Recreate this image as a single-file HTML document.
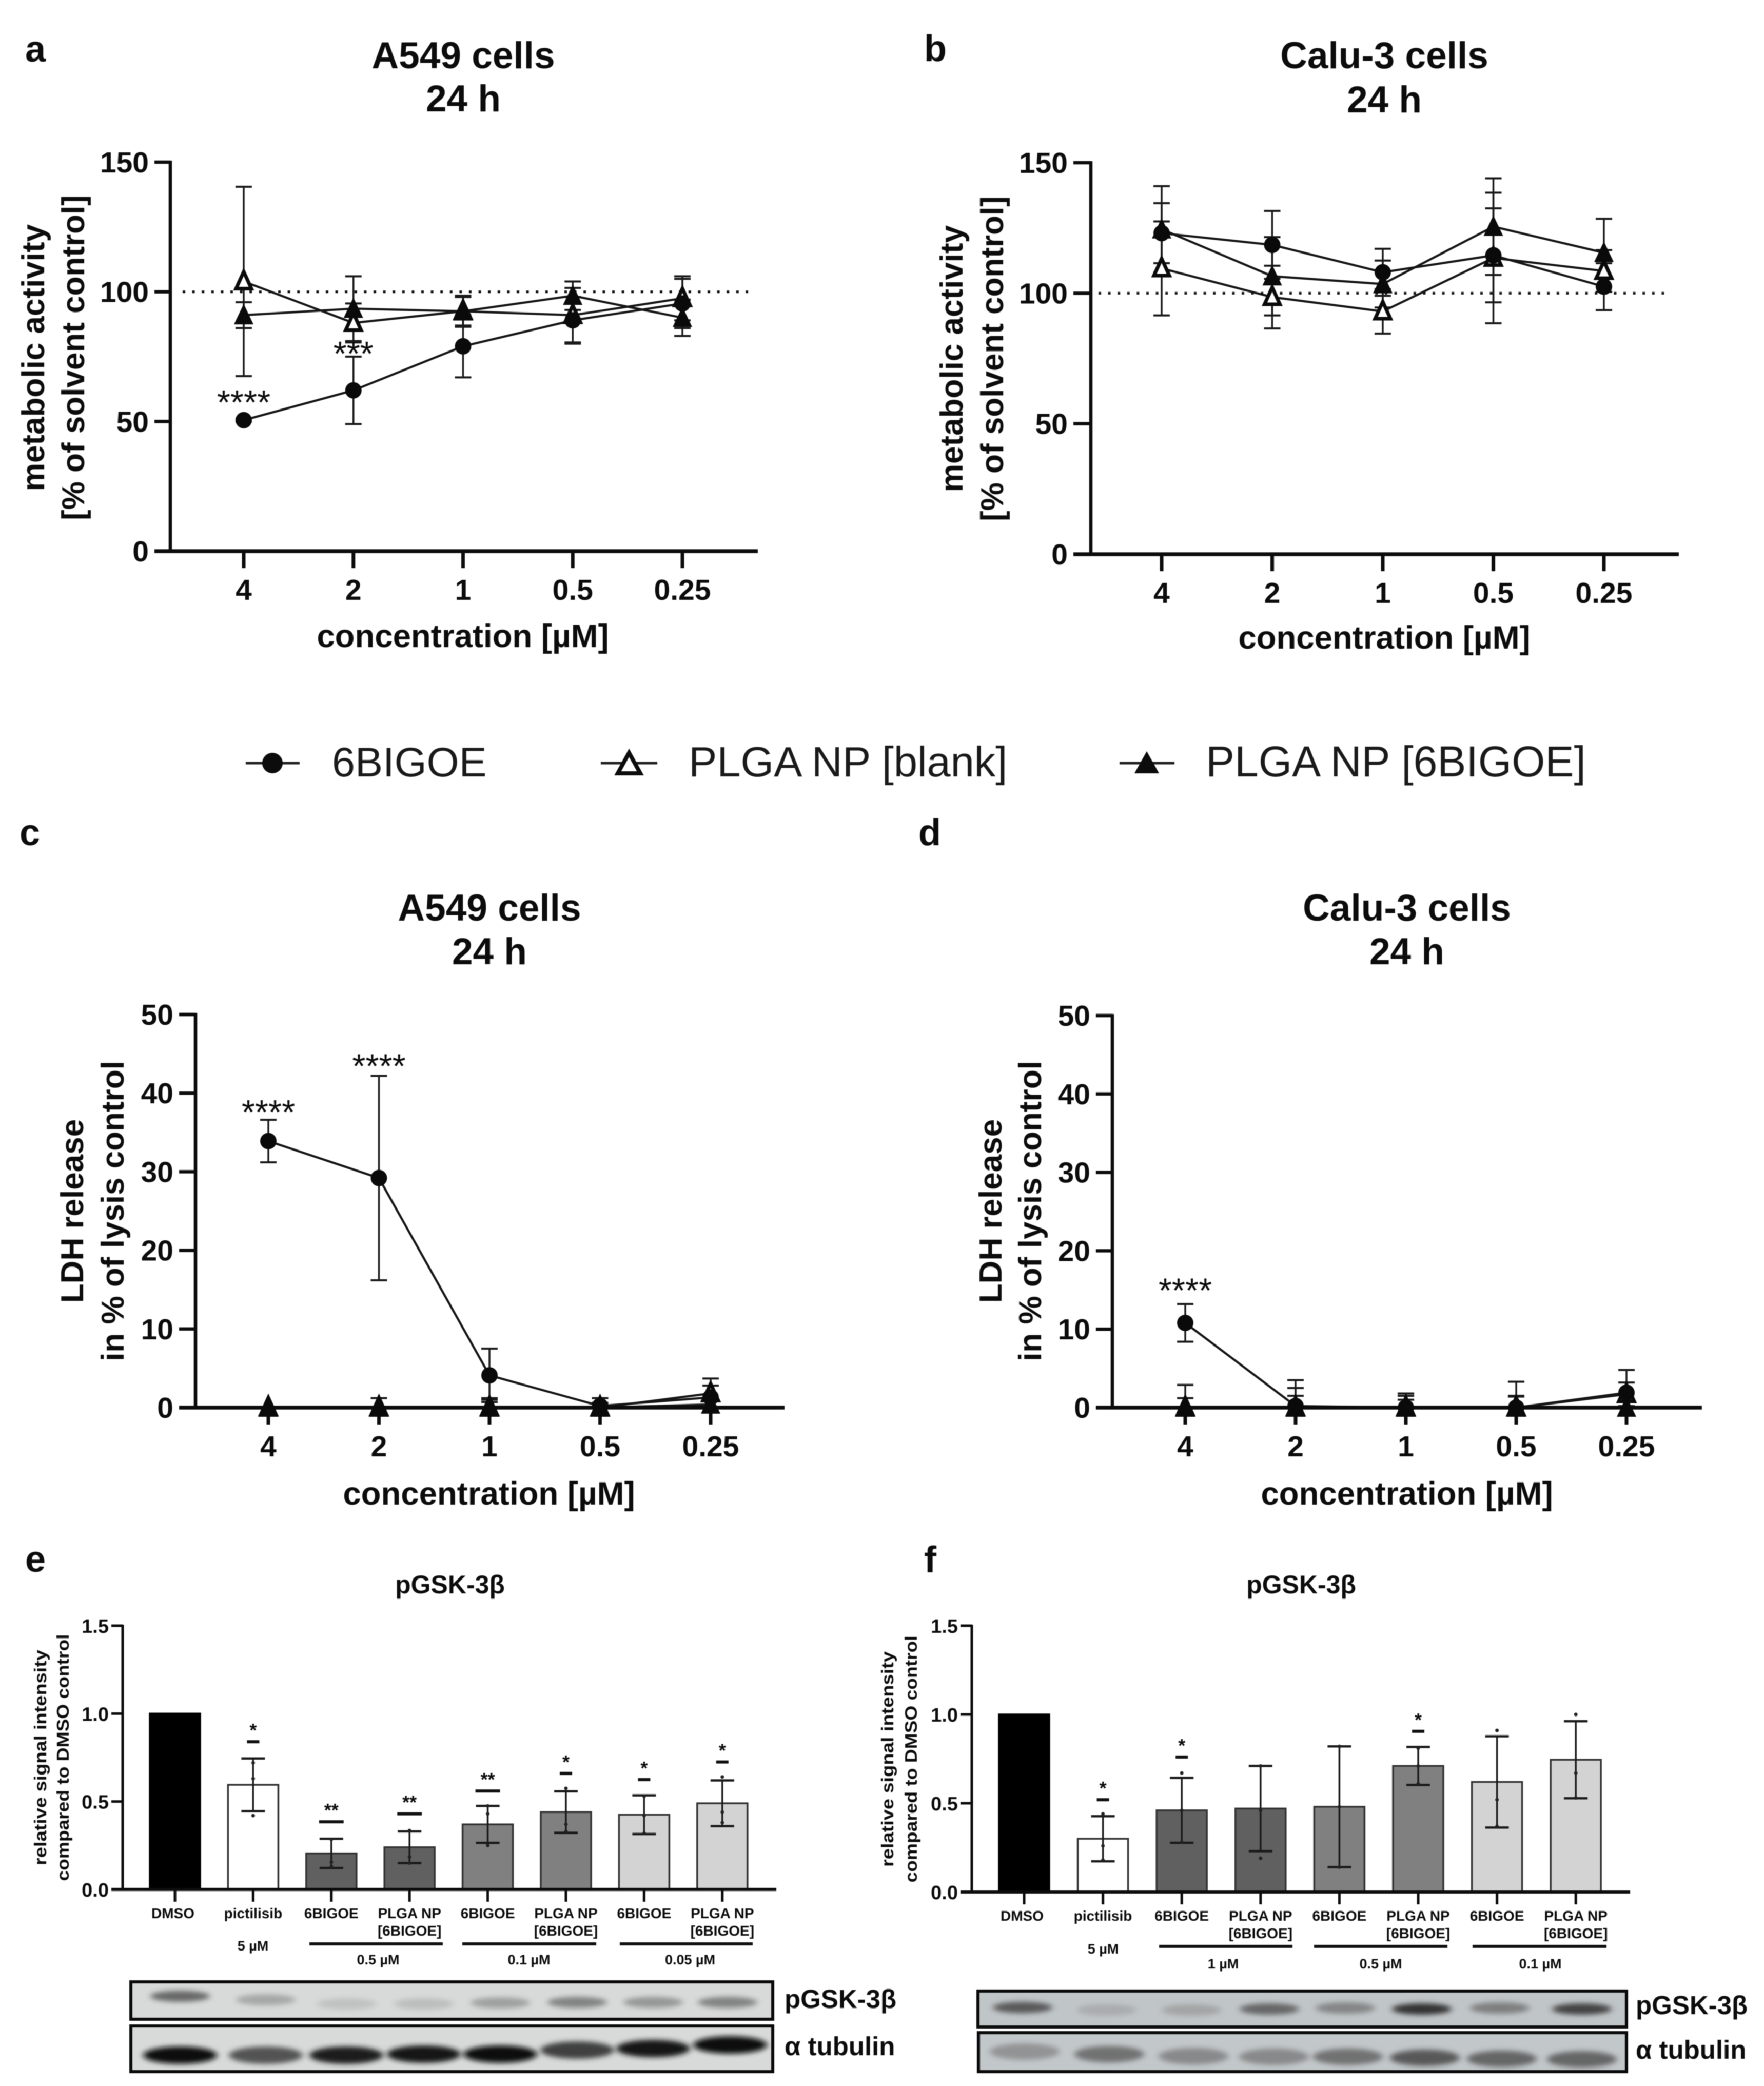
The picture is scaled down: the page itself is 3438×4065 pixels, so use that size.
<!DOCTYPE html>
<html lang="en">
<head>
<meta charset="utf-8">
<title>6BIGOE metabolic activity, LDH release and pGSK-3β figure</title>
<style>
html,body{margin:0;padding:0;background:#fff;}
body{width:3438px;height:4065px;overflow:hidden;}
svg{display:block;filter:blur(0.9px);}
text{font-family:"Liberation Sans",sans-serif;fill:#0c0c0c;}
.b{font-weight:700;}
.letter{font-size:72px;font-weight:700;}
.title{font-size:73px;font-weight:700;text-anchor:middle;}
.axt{font-size:62px;font-weight:700;text-anchor:middle;}
.xt{font-size:63.5px;font-weight:700;text-anchor:middle;}
.leg{font-size:81px;fill:#1a1a1a;}
.wt{font-size:50px;font-weight:700;text-anchor:middle;}
.bl{font-size:51px;font-weight:700;}
.sub{font-size:27px;font-weight:700;text-anchor:middle;}
.yb{font-size:33px;font-weight:700;text-anchor:middle;}
</style>
</head>
<body>
<svg id="fig" xmlns="http://www.w3.org/2000/svg" width="3438" height="4065" viewBox="0 0 3438 4065">
  <defs>
    <filter id="bandBlur" x="-40%" y="-120%" width="180%" height="340%"><feGaussianBlur stdDeviation="6 5"/></filter>
  </defs>
  <rect x="0" y="0" width="3438" height="4065" fill="#fff"/>

  <text class="letter" x="49" y="120">a</text>
  <text class="letter" x="1801" y="119">b</text>
  <text class="letter" x="38" y="1647">c</text>
  <text class="letter" x="1790" y="1647">d</text>
  <text class="letter" x="49" y="3063">e</text>
  <text class="letter" x="1801" y="3064">f</text>

  <text class="title" x="903" y="133">A549 cells</text>
  <text class="title" x="903" y="217">24 h</text>
  <text class="title" x="2698" y="133">Calu-3 cells</text>
  <text class="title" x="2698" y="219">24 h</text>
  <text class="title" x="954" y="1794">A549 cells</text>
  <text class="title" x="954" y="1879">24 h</text>
  <text class="title" x="2742" y="1794">Calu-3 cells</text>
  <text class="title" x="2742" y="1879">24 h</text>
  <text class="wt" x="877" y="3105">pGSK-3β</text>
  <text class="wt" x="2536" y="3105">pGSK-3β</text>

  <text class="axt" transform="translate(86 697) rotate(-90)">metabolic activity</text>
  <text class="axt" transform="translate(164 697) rotate(-90)">[% of solvent control]</text>
  <text class="axt" transform="translate(1876 699) rotate(-90)">metabolic activity</text>
  <text class="axt" transform="translate(1955 699) rotate(-90)">[% of solvent control]</text>
  <text class="axt" transform="translate(162 2360) rotate(-90)">LDH release</text>
  <text class="axt" transform="translate(241 2360) rotate(-90)">in % of lysis control</text>
  <text class="axt" transform="translate(1952 2360) rotate(-90)">LDH release</text>
  <text class="axt" transform="translate(2029 2360) rotate(-90)">in % of lysis control</text>
  <text class="yb" textLength="420" lengthAdjust="spacingAndGlyphs" transform="translate(90 3425) rotate(-90)">relative signal intensity</text>
  <text class="yb" textLength="481" lengthAdjust="spacingAndGlyphs" transform="translate(134 3425) rotate(-90)">compared to DMSO control</text>
  <text class="yb" textLength="420" lengthAdjust="spacingAndGlyphs" transform="translate(1741 3428) rotate(-90)">relative signal intensity</text>
  <text class="yb" textLength="481" lengthAdjust="spacingAndGlyphs" transform="translate(1787 3428) rotate(-90)">compared to DMSO control</text>

  <text class="xt" x="902" y="1261">concentration [µM]</text>
  <text class="xt" x="2698" y="1264">concentration [µM]</text>
  <text class="xt" x="953" y="2932">concentration [µM]</text>
  <text class="xt" x="2742" y="2932">concentration [µM]</text>

  <g>
    <g>
      <line x1="479" y1="1487" x2="584" y2="1487" stroke="#222" stroke-width="5"/>
      <circle cx="531" cy="1487" r="20" fill="#0c0c0c"/>
      <text class="leg" x="647" y="1513">6BIGOE</text>
    </g>
    <g>
      <line x1="1171" y1="1487" x2="1281" y2="1487" stroke="#222" stroke-width="5"/>
      <polygon points="1226,1467 1248,1507 1204,1507" fill="#fff" stroke="#0c0c0c" stroke-width="8"/>
      <text class="leg" x="1342" y="1513" style="font-size:83px">PLGA NP [blank]</text>
    </g>
    <g>
      <line x1="2182" y1="1487" x2="2289" y2="1487" stroke="#222" stroke-width="5"/>
      <polygon points="2235,1464 2259,1507 2211,1507" fill="#0c0c0c"/>
      <text class="leg" x="2350" y="1513" style="font-size:84px">PLGA NP [6BIGOE]</text>
    </g>
  </g>

  <text class="sub" x="493" y="3801">5 µM</text>
  <text class="sub" x="737" y="3828">0.5 µM</text>
  <text class="sub" x="1031" y="3828">0.1 µM</text>
  <text class="sub" x="1345" y="3828">0.05 µM</text>
  <text class="sub" x="2150" y="3807">5 µM</text>
  <text class="sub" x="2384" y="3836">1 µM</text>
  <text class="sub" x="2691" y="3836">0.5 µM</text>
  <text class="sub" x="3002" y="3836">0.1 µM</text>

  <rect x="603" y="3785" width="260" height="6" fill="#111"/>
  <rect x="901" y="3785" width="261" height="6" fill="#111"/>
  <rect x="1208" y="3785" width="259" height="6" fill="#111"/>
  <rect x="2259" y="3790" width="260" height="6" fill="#111"/>
  <rect x="2561" y="3790" width="260" height="6" fill="#111"/>
  <rect x="2870" y="3790" width="261" height="6" fill="#111"/>

  <text class="bl" x="1529" y="3913">pGSK-3β</text>
  <text class="bl" x="1529" y="4005">α tubulin</text>
  <text class="bl" x="3188" y="3925">pGSK-3β</text>
  <text class="bl" x="3188" y="4012">α tubulin</text>

  <g id="charts"></g>
</svg>

<script>
// ---------- shared categories and ticks ----------
const concentrations = ['4', '2', '1', '0.5', '0.25'];
const metabolicTicks = [0, 50, 100, 150];
const lysisTicks = [0, 10, 20, 30, 40, 50];
const bandTicks = ['0.0', '0.5', '1.0', '1.5'];

// ---------- panel a ----------
const aFreeMean = [50.5, 62, 79, 89, 95.5];
const aFreeErr = [0.5, 13, 12, 9, 9.5];
const aBlankMean = [104, 88, 92.5, 91, 97.5];
const aBlankErr = [36.5, 7.5, 5.5, 10.5, 8.5];
const aLoadedMean = [91, 93.5, 92.5, 98.5, 90];
const aLoadedErr = [5, 12.5, 6, 5.5, 7];
const aStars = ['****', '***', '', '', ''];
const aStarHeights = [60.6, 79.4, 0, 0, 0];

// ---------- panel b ----------
const bFreeMean = [123, 118.5, 108, 114.5, 102.5];
const bFreeErr = [11.5, 13, 9, 18, 9];
const bBlankMean = [109.5, 98.5, 93, 113.5, 108.5];
const bBlankErr = [18, 12, 8.5, 25, 8];
const bLoadedMean = [124.5, 106.5, 103.5, 125.5, 115.5];
const bLoadedErr = [16.5, 15, 9, 18.5, 13];

// ---------- panel c ----------
const cFreeMean = [33.9, 29.2, 4.1, 0.2, 1.3];
const cFreeErr = [2.7, 13, 3.4, 1, 2.4];
const cBlankMean = [0, 0, 0, 0, 1.8];
const cBlankErr = [0, 1.2, 1, 0.6, 1];
const cLoadedMean = [0, 0, 0, 0, 0.4];
const cLoadedErr = [0, 0, 1.2, 0.5, 0.5];
const cStars = ['****', '****', '', '', ''];
const cStarHeights = [38.65, 44.5, 0, 0, 0];

// ---------- panel d ----------
const dFreeMean = [10.8, 0.2, 0, 0, 1.9];
const dFreeErr = [2.4, 3.3, 1.8, 3.3, 2.9];
const dBlankMean = [0, 0, 0, 0, 1.7];
const dBlankErr = [2.9, 2.5, 1.5, 1.5, 1.5];
const dLoadedMean = [0, 0, 0, 0, 0];
const dLoadedErr = [1.2, 1.5, 1, 1.4, 1];
const dStars = ['****', '', '', '', ''];
const dStarHeights = [16, 0, 0, 0, 0];

// ---------- panels e / f ----------
const eCategories = ['DMSO', 'pictilisib', '6BIGOE', 'PLGA NP|[6BIGOE]', '6BIGOE', 'PLGA NP|[6BIGOE]', '6BIGOE', 'PLGA NP|[6BIGOE]'];
const eMeans = [1.0, 0.595, 0.205, 0.24, 0.37, 0.44, 0.425, 0.49];
const eErrs = [0, 0.15, 0.083, 0.09, 0.105, 0.118, 0.11, 0.13];
const eDash = [0, 0.84, 0.385, 0.43, 0.56, 0.66, 0.625, 0.725];
const eStars = ['', '*', '**', '**', '**', '*', '*', '*'];
const eDots = [[], [0.72, 0.63, 0.42], [0.285, 0.155, 0.13], [0.335, 0.185, 0.15], [0.475, 0.43, 0.25], [0.575, 0.37, 0.33], [0.53, 0.42, 0.32], [0.64, 0.44, 0.38]];

const fCategories = ['DMSO', 'pictilisib', '6BIGOE', 'PLGA NP|[6BIGOE]', '6BIGOE', 'PLGA NP|[6BIGOE]', '6BIGOE', 'PLGA NP|[6BIGOE]'];
const fMeans = [1.0, 0.30, 0.46, 0.47, 0.48, 0.71, 0.62, 0.745];
const fErrs = [0, 0.127, 0.183, 0.24, 0.34, 0.107, 0.257, 0.217];
const fDash = [0, 0.52, 0.76, 0, 0, 0.905, 0, 0];
const fStars = ['', '*', '*', '', '', '*', '', ''];
const fDots = [[], [0.44, 0.26, 0.18], [0.67, 0.46, 0.28], [0.71, 0.46, 0.19], [0.82, 0.48, 0.14], [0.81, 0.71, 0.61], [0.91, 0.52, 0.37], [1.0, 0.67, 0.53]];

const barFills = ['#000000', '#ffffff', '#606060', '#606060', '#808080', '#808080', '#d3d3d3', '#d3d3d3'];

// ---------- western blot band intensities ----------
const ePgskBands = [0.55, 0.28, 0.12, 0.15, 0.32, 0.45, 0.36, 0.45];
const eTubulinBands = [1, 0.62, 0.92, 0.95, 1.05, 0.72, 0.95, 1.05];
const fPgskBands = [0.6, 0.2, 0.25, 0.55, 0.42, 0.8, 0.45, 0.7];
const fTubulinBands = [0.35, 0.5, 0.4, 0.4, 0.5, 0.6, 0.55, 0.55];

const SVGNS = 'http://www.w3.org/2000/svg';
const root = document.getElementById('charts');
const INK = '#0c0c0c';

function mk(parent, tag, attrs, name) {
  const el = document.createElementNS(SVGNS, tag);
  for (const k in attrs) el.setAttribute(k, attrs[k]);
  
  
  parent.appendChild(el);
  return el;
}
function label(parent, x, y, str, size, anchor, weight, name) {
  const el = mk(parent, 'text', {x: x, y: y, 'font-size': size, 'text-anchor': anchor, 'font-weight': weight}, name);
  el.textContent = str;
  return el;
}
function hline(parent, x1, x2, y, w, color, name) {
  return mk(parent, 'line', {x1: x1, x2: x2, y1: y, y2: y, stroke: color, 'stroke-width': w}, name);
}
function vline(parent, x, y1, y2, w, color, name) {
  return mk(parent, 'line', {x1: x, x2: x, y1: y1, y2: y2, stroke: color, 'stroke-width': w}, name);
}

function drawLinePanel(id, layout, ticks, yMax, series, stars, starHeights) {
  const g = mk(root, 'g', {}, 'chart-' + id);
  const yScale = v => layout.y0 - (v / yMax) * (layout.y0 - layout.yTop);
  const xScale = i => layout.x1 + i * (layout.x5 - layout.x1) / (concentrations.length - 1);

  if (layout.ref !== undefined) {
    mk(g, 'line', {x1: layout.refStart, x2: layout.refEnd, y1: yScale(layout.ref), y2: yScale(layout.ref),
      stroke: '#111', 'stroke-width': 5, 'stroke-dasharray': '5 13.6'}, 'reference-line-100');
  }

  series.forEach(s => {
    concentrations.forEach((c, i) => {
      const x = xScale(i);
      const hi = yScale(s.mean[i] + s.err[i]);
      const lo = yScale(Math.max(s.mean[i] - s.err[i], 0));
      vline(g, x, hi, lo, 3.5, '#1a1a1a', 'error-bar-' + s.key + '-' + c);
      hline(g, x - 16, x + 16, hi, 4, '#1a1a1a', 'error-cap-high-' + s.key + '-' + c);
      if (s.mean[i] - s.err[i] > 0) {
        hline(g, x - 16, x + 16, lo, 4, '#1a1a1a', 'error-cap-low-' + s.key + '-' + c);
      }
    });
  });

  series.forEach(s => {
    const pts = concentrations.map((c, i) => xScale(i) + ',' + yScale(s.mean[i])).join(' ');
    mk(g, 'polyline', {points: pts, fill: 'none', stroke: '#161616', 'stroke-width': 4.3}, 'series-line-' + s.key);
  });

  hline(g, layout.tickLeft, layout.xEnd, layout.y0, 7.5, INK, 'x-axis-line');
  vline(g, layout.x0, layout.yTop - 3, layout.y0, 6.5, INK, 'y-axis-line');
  ticks.forEach(t => {
    const y = yScale(t);
    hline(g, layout.tickLeft, layout.x0, y, 6.5, INK, 'y-tick-' + t);
    label(g, layout.tickLeft - 11, y + 20, String(t), 57, 'end', 700, 'y-tick-label-' + t);
  });
  concentrations.forEach((c, i) => {
    const x = xScale(i);
    vline(g, x, layout.y0, layout.y0 + 33, 7, INK, 'x-tick-' + c);
    label(g, x, layout.y0 + 95, c, 57, 'middle', 700, 'x-tick-label-' + c);
  });

  series.forEach(s => {
    concentrations.forEach((c, i) => {
      const x = xScale(i);
      const y = yScale(s.mean[i]);
      if (s.marker === 'circle') {
        mk(g, 'circle', {cx: x, cy: y, r: 16, fill: '#0a0a0a'}, 'point-' + s.key + '-' + c);
      } else if (s.marker === 'open') {
        mk(g, 'polygon', {points: x + ',' + (y - 19) + ' ' + (x + 15) + ',' + (y + 14) + ' ' + (x - 15) + ',' + (y + 14),
          fill: '#fff', stroke: '#0a0a0a', 'stroke-width': 7}, 'point-' + s.key + '-' + c);
      } else {
        mk(g, 'polygon', {points: x + ',' + (y - 22) + ' ' + (x + 19) + ',' + (y + 18) + ' ' + (x - 19) + ',' + (y + 18),
          fill: '#0a0a0a'}, 'point-' + s.key + '-' + c);
      }
    });
  });

  stars.forEach((st, i) => {
    if (!st) return;
    label(g, xScale(i), yScale(starHeights[i]) + 39, st, 67, 'middle', 400, 'significance-' + concentrations[i]);
  });
}

function drawBarPanel(id, layout, cats, means, errs, dashes, stars, dots) {
  const g = mk(root, 'g', {}, 'chart-' + id);
  const yScale = v => layout.y0 - (v / 1.5) * (layout.y0 - layout.yTop);
  const xScale = i => layout.x1 + i * layout.step;

  cats.forEach((c, i) => {
    const x = xScale(i);
    const top = yScale(means[i]);
    const n = (i + 1);
    mk(g, 'rect', {x: x - 49, y: top, width: 98, height: layout.y0 - top,
      fill: barFills[i], stroke: i === 0 ? '#000' : '#333', 'stroke-width': 3.5}, 'bar-' + n);
    if (errs[i] > 0) {
      const hi = yScale(means[i] + errs[i]);
      const lo = yScale(means[i] - errs[i]);
      vline(g, x, hi, lo, 3.5, '#1a1a1a', 'bar-error-' + n);
      hline(g, x - 23, x + 23, hi, 4.5, '#1a1a1a', 'bar-error-cap-high-' + n);
      hline(g, x - 23, x + 23, lo, 4.5, '#1a1a1a', 'bar-error-cap-low-' + n);
    }
    dots[i].forEach((d, k) => {
      mk(g, 'circle', {cx: x, cy: yScale(d), r: 3.5, fill: '#222'}, 'bar-dot-' + n + '-' + (k + 1));
    });
    if (stars[i]) {
      const dy = yScale(dashes[i]);
      const half = stars[i].length > 1 ? 24 : 12;
      hline(g, x - half, x + half, dy, 6, '#111', 'significance-bar-' + n);
      label(g, x, dy - 10, stars[i], 36, 'middle', 700, 'significance-star-' + n);
    }
    const parts = c.split('|');
    label(g, x + (i === 0 ? -4 : 0), layout.y0 + layout.catOffset, parts[0], 28, 'middle', 700, 'category-label-' + n);
    if (parts[1]) label(g, x, layout.y0 + layout.catOffset + 34, parts[1], 28, 'middle', 700, 'category-sublabel-' + n);
    vline(g, x, layout.y0, layout.y0 + 24, 5, INK, 'x-tick-' + n);
  });

  hline(g, layout.tickLeft, layout.xEnd, layout.y0, 6, INK, 'x-axis-line');
  vline(g, layout.x0, layout.yTop - 2, layout.y0, 5, INK, 'y-axis-line');
  bandTicks.forEach(t => {
    const y = yScale(parseFloat(t));
    hline(g, layout.tickLeft, layout.x0, y, 5, INK, 'y-tick-' + t);
    label(g, layout.tickLeft - 5, y + 14, t, 38, 'end', 700, 'y-tick-label-' + t);
  });
}

function drawBlot(id, box, laneXs, laneYs, intensities, rx, ry, bg) {
  const g = mk(root, 'g', {}, 'blot-' + id);
  mk(g, 'rect', {x: box.x, y: box.y, width: box.w, height: box.h, fill: bg}, 'blot-background');
  intensities.forEach((v, i) => {
    const shade = Math.max(0, Math.round(185 - 170 * v));
    mk(g, 'ellipse', {cx: laneXs[i], cy: laneYs[i], rx: rx, ry: ry, fill: 'rgb(' + shade + ',' + shade + ',' + shade + ')',
      opacity: Math.min(1, 0.35 + v), filter: 'url(#bandBlur)'}, 'blot-band-lane-' + (i + 1));
  });
  mk(g, 'rect', {x: box.x, y: box.y, width: box.w, height: box.h, fill: 'none', stroke: '#0a0a0a', 'stroke-width': 6}, 'blot-frame');
}

drawLinePanel('a', {x0: 332, y0: 1074, yTop: 316, x1: 475, x5: 1330, tickLeft: 301, xEnd: 1477, ref: 100, refStart: 356, refEnd: 1458},
  metabolicTicks, 150, [
    {key: 'plga-blank', marker: 'open', mean: aBlankMean, err: aBlankErr},
    {key: '6bigoe', marker: 'circle', mean: aFreeMean, err: aFreeErr},
    {key: 'plga-6bigoe', marker: 'filled', mean: aLoadedMean, err: aLoadedErr}
  ], aStars, aStarHeights);

drawLinePanel('b', {x0: 2126, y0: 1080, yTop: 317, x1: 2264, x5: 3126, tickLeft: 2092, xEnd: 3272, ref: 100, refStart: 2141, refEnd: 3254},
  metabolicTicks, 150, [
    {key: 'plga-blank', marker: 'open', mean: bBlankMean, err: bBlankErr},
    {key: '6bigoe', marker: 'circle', mean: bFreeMean, err: bFreeErr},
    {key: 'plga-6bigoe', marker: 'filled', mean: bLoadedMean, err: bLoadedErr}
  ], ['', '', '', '', ''], [0, 0, 0, 0, 0]);

drawLinePanel('c', {x0: 381, y0: 2743, yTop: 1977, x1: 523, x5: 1385, tickLeft: 349, xEnd: 1529},
  lysisTicks, 50, [
    {key: 'plga-blank', marker: 'open', mean: cBlankMean, err: cBlankErr},
    {key: '6bigoe', marker: 'circle', mean: cFreeMean, err: cFreeErr},
    {key: 'plga-6bigoe', marker: 'filled', mean: cLoadedMean, err: cLoadedErr}
  ], cStars, cStarHeights);

drawLinePanel('d', {x0: 2168, y0: 2743, yTop: 1979, x1: 2310, x5: 3170, tickLeft: 2136, xEnd: 3317},
  lysisTicks, 50, [
    {key: 'plga-blank', marker: 'open', mean: dBlankMean, err: dBlankErr},
    {key: '6bigoe', marker: 'circle', mean: dFreeMean, err: dFreeErr},
    {key: 'plga-6bigoe', marker: 'filled', mean: dLoadedMean, err: dLoadedErr}
  ], dStars, dStarHeights);

drawBarPanel('e', {x0: 239, y0: 3682, yTop: 3168, x1: 341, step: 152.4, tickLeft: 217, xEnd: 1513, catOffset: 56},
  eCategories, eMeans, eErrs, eDash, eStars, eDots);

drawBarPanel('f', {x0: 1894, y0: 3687, yTop: 3168, x1: 1996, step: 153.6, tickLeft: 1872, xEnd: 3177, catOffset: 56},
  fCategories, fMeans, fErrs, fDash, fStars, fDots);

drawBlot('e-pgsk', {x: 255, y: 3862, w: 1251, h: 73}, [351, 518, 676, 826, 975, 1125, 1273, 1418],
  [3890, 3897, 3905, 3905, 3903, 3902, 3902, 3902], ePgskBands, 58, 11, '#d8dada');
drawBlot('e-tubulin', {x: 255, y: 3948, w: 1251, h: 89}, [351, 518, 675, 826, 975, 1125, 1273, 1423],
  [4005, 4005, 4005, 4003, 4003, 3995, 3992, 3985], eTubulinBands, 72, 17, '#d8dada');
drawBlot('f-pgsk', {x: 1906, y: 3880, w: 1264, h: 70}, [1993, 2157, 2322, 2474, 2622, 2771, 2923, 3083],
  [3912, 3917, 3917, 3915, 3913, 3915, 3913, 3915], fPgskBands, 58, 11, '#c0c5c7');
drawBlot('f-tubulin', {x: 1907, y: 3961, w: 1263, h: 76}, [1997, 2162, 2326, 2483, 2627, 2777, 2927, 3083],
  [3998, 4003, 4007, 4008, 4008, 4010, 4012, 4013], fTubulinBands, 68, 16, '#c2c7c9');
</script>
</body>
</html>
